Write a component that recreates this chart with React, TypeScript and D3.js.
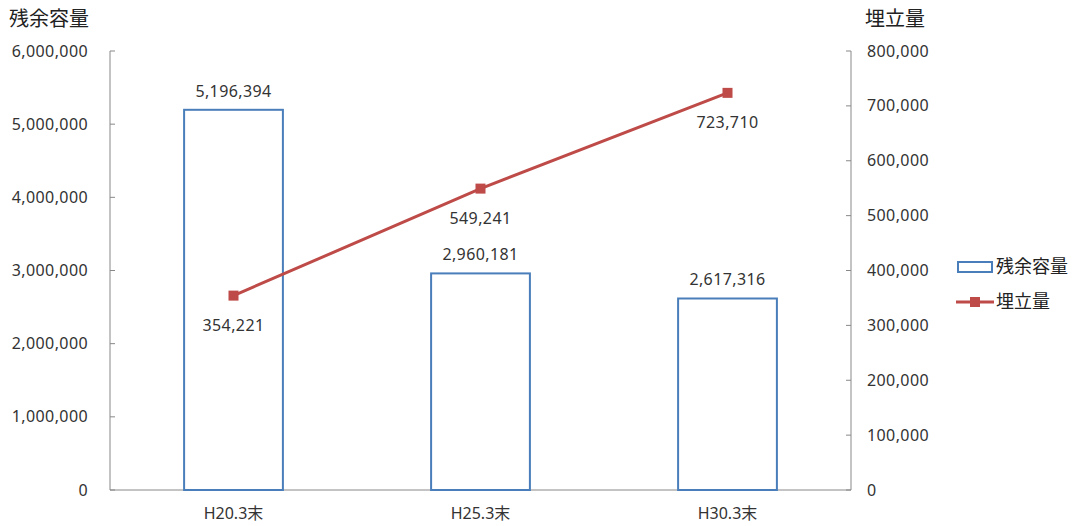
import React from "react";
import * as d3 from "d3";

const categories = ["H20.3末", "H25.3末", "H30.3末"];
const remaining = [5196394, 2960181, 2617316];
const landfill = [354221, 549241, 723710];
const leftTicks = [0, 1000000, 2000000, 3000000, 4000000, 5000000, 6000000];
const rightTicks = [0, 100000, 200000, 300000, 400000, 500000, 600000, 700000, 800000];

const W = 1073, H = 526;
const L = 110, R = 851, T = 51, B = 490;
const FONT = "'Noto Sans', 'Noto Sans CJK JP', sans-serif";
const BLUE = "#4a7ebb";
const RED = "#be4b48";
const TXT = "#333";
const NUM = 16;
const LS = 0.4;

export default function App() {
  const x = d3.scaleBand<string>().domain(categories).range([L, R]).paddingInner(0.6).paddingOuter(0.3);
  const yl = d3.scaleLinear().domain([0, 6000000]).range([B, T]);
  const yr = d3.scaleLinear().domain([0, 800000]).range([B, T]);
  const fmt = d3.format(",");
  const cx = (c: string) => (x(c) as number) + x.bandwidth() / 2;
  const line = d3.line<number>().x((_, i) => cx(categories[i])).y((d) => yr(d));

  return (
    <svg width={W} height={H} style={{ position: "absolute", left: 0, top: 0, background: "#fff" }} fontFamily={FONT}>
      <text x={9} y={26} fontSize={20} fill="#222">残余容量</text>
      <text x={865} y={26} fontSize={20} fill="#222">埋立量</text>

      {/* axes */}
      <line x1={L} x2={L} y1={T} y2={B} stroke="#888" />
      <line x1={R} x2={R} y1={T} y2={B} stroke="#888" />
      <line x1={L} x2={R} y1={B} y2={B} stroke="#888" />
      {leftTicks.map((t) => (
        <g key={"l" + t}>
          <line x1={L} x2={L + 5} y1={yl(t)} y2={yl(t)} stroke="#888" />
          <text x={88} y={yl(t)} dy="0.35em" textAnchor="end" fontSize={NUM} letterSpacing={LS} fill={TXT}>{fmt(t)}</text>
        </g>
      ))}
      {rightTicks.map((t) => (
        <g key={"r" + t}>
          <line x1={R - 5} x2={R} y1={yr(t)} y2={yr(t)} stroke="#888" />
          <text x={867} y={yr(t)} dy="0.35em" textAnchor="start" fontSize={NUM} letterSpacing={LS} fill={TXT}>{fmt(t)}</text>
        </g>
      ))}
      {categories.map((c) => (
        <text key={c} x={cx(c)} y={519} textAnchor="middle" fontSize={16} fill={TXT}>{c}</text>
      ))}

      {/* bars */}
      {categories.map((c, i) => (
        <g key={"b" + c}>
          <rect x={x(c)} y={yl(remaining[i])} width={x.bandwidth()} height={B - yl(remaining[i])} fill="#fff" stroke={BLUE} strokeWidth={2} />
          <text x={cx(c)} y={yl(remaining[i]) - 13} textAnchor="middle" fontSize={NUM} letterSpacing={LS} fill={TXT}>{fmt(remaining[i])}</text>
        </g>
      ))}

      {/* line */}
      <path d={line(landfill) as string} fill="none" stroke={RED} strokeWidth={3} />
      {landfill.map((v, i) => (
        <g key={"p" + i}>
          <rect x={cx(categories[i]) - 5} y={yr(v) - 5} width={10} height={10} fill={RED} />
          <text x={cx(categories[i])} y={yr(v) + 30} dy="0.35em" textAnchor="middle" fontSize={NUM} letterSpacing={LS} fill={TXT}>{fmt(v)}</text>
        </g>
      ))}

      {/* legend */}
      <rect x={958} y={262} width={34} height={10} fill="#fff" stroke={BLUE} strokeWidth={2} />
      <text x={996} y={267} dy="0.35em" fontSize={18} fill="#222">残余容量</text>
      <line x1={956} x2={994} y1={302} y2={302} stroke={RED} strokeWidth={3} />
      <rect x={970} y={297} width={10} height={10} fill={RED} />
      <text x={996} y={302} dy="0.35em" fontSize={18} fill="#222">埋立量</text>
    </svg>
  );
}
